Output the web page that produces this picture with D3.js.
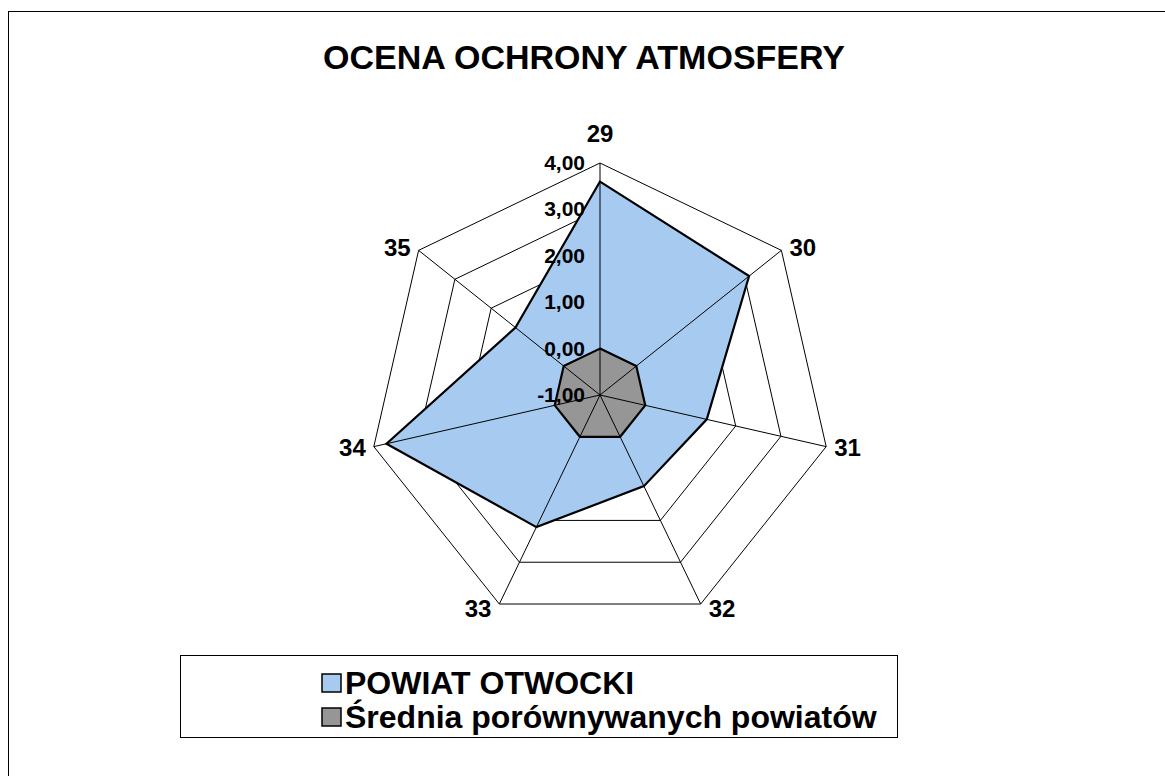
<!DOCTYPE html>
<html>
<head>
<meta charset="utf-8">
<script src="https://cdn.jsdelivr.net/npm/d3@7"></script>
<style>
  body { margin: 0; background: #fff; }
  svg { display: block; font-family: "Liberation Sans", Arial, sans-serif; }
</style>
</head>
<body>
<svg id="chart"></svg>
<script>
const categories = ["29", "30", "31", "32", "33", "34", "35"];
const powiatValues = [3.60, 3.11, 1.36, 1.18, 2.16, 3.72, 1.33];
const sredniaValues = [0, 0, 0, 0, 0, 0, 0];
const tickValues = [-1, 0, 1, 2, 3, 4];
const tickLabels = ["-1,00", "0,00", "1,00", "2,00", "3,00", "4,00"];
const seriesNames = ["POWIAT OTWOCKI", "Średnia porównywanych powiatów"];
const seriesColors = ["#a6caf0", "#969696"];

const width = 1165, height = 776;
const cx = 600, cy = 395, R = 232;

const svg = d3.select("#chart").attr("width", width).attr("height", height);

// frame (only left + top edges fall inside the picture)
svg.append("rect")
  .attr("x", 8.5).attr("y", 11.5)
  .attr("width", 1200).attr("height", 800)
  .attr("fill", "none").attr("stroke", "#000").attr("stroke-width", 1);

svg.append("text")
  .attr("x", 584).attr("y", 69)
  .attr("text-anchor", "middle")
  .style("font-size", "34px").style("font-weight", "bold")
  .text("OCENA OCHRONY ATMOSFERY");

const r = d3.scaleLinear().domain([-1, 4]).range([0, R]);
const angle = d3.scalePoint().domain(categories).range([0, 2 * Math.PI * 6 / 7]);

function pt(cat, v) {
  const a = angle(cat);
  return [cx + r(v) * Math.sin(a), cy - r(v) * Math.cos(a)];
}

const g = svg.append("g");

// rings
tickValues.slice(1).forEach(t => {
  g.append("polygon")
    .attr("points", categories.map(c => pt(c, t).join(",")).join(" "))
    .attr("fill", "none").attr("stroke", "#000").attr("stroke-width", 1);
});

// series
[powiatValues, sredniaValues].forEach((vals, i) => {
  g.append("polygon")
    .attr("points", categories.map((c, j) => pt(c, vals[j]).join(",")).join(" "))
    .attr("fill", seriesColors[i])
    .attr("stroke", "#000").attr("stroke-width", 2.2)
    .attr("stroke-linejoin", "miter");
});

// spokes
categories.forEach(c => {
  const p = pt(c, 4);
  g.append("line")
    .attr("x1", cx).attr("y1", cy).attr("x2", p[0]).attr("y2", p[1])
    .attr("stroke", "#000").attr("stroke-width", 1);
});

// category labels
categories.forEach(c => {
  const a = angle(c);
  const p = pt(c, 4);
  const s = Math.sin(a), co = Math.cos(a);
  const t = g.append("text")
    .style("font-size", "24px").style("font-weight", "bold")
    .attr("dominant-baseline", "central")
    .text(c);
  if (Math.abs(s) < 0.1) {
    t.attr("x", p[0]).attr("y", p[1] - 30).attr("text-anchor", "middle");
  } else if (s > 0) {
    t.attr("x", p[0] + 8).attr("y", p[1] - co * 5).attr("text-anchor", "start");
  } else {
    t.attr("x", p[0] - 8).attr("y", p[1] - co * 5).attr("text-anchor", "end");
  }
});

// tick labels
tickValues.forEach((t, i) => {
  g.append("text")
    .attr("x", cx - 15).attr("y", cy - r(t) + 7)
    .attr("text-anchor", "end")
    .style("font-size", "21px").style("font-weight", "bold")
    .text(tickLabels[i]);
});

// legend
const legend = svg.append("g");
legend.append("rect")
  .attr("x", 180.5).attr("y", 655.5).attr("width", 717).attr("height", 82)
  .attr("fill", "#fff").attr("stroke", "#000").attr("stroke-width", 1);

seriesNames.forEach((name, i) => {
  const y = 683 + i * 34;
  legend.append("rect")
    .attr("x", 322).attr("y", y - 9).attr("width", 19).attr("height", 18)
    .attr("fill", seriesColors[i]).attr("stroke", "#000").attr("stroke-width", 1.5);
  legend.append("text")
    .attr("x", 345).attr("y", y + 11)
    .style("font-size", "32px").style("font-weight", "bold")
    .text(name);
});
</script>
</body>
</html>
